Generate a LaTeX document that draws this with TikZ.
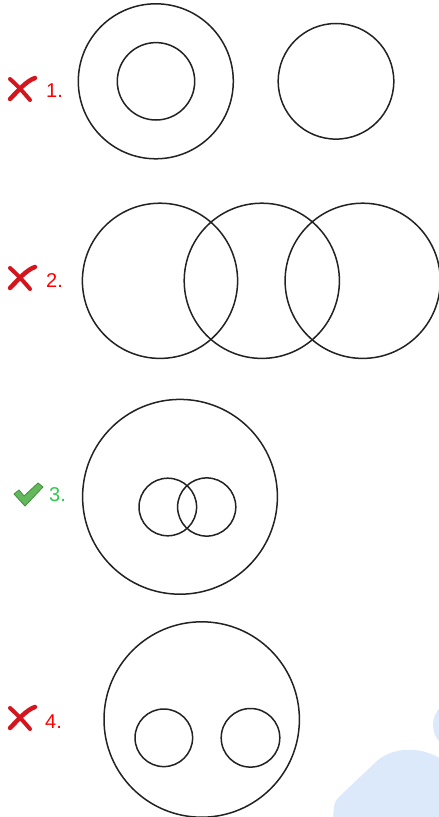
\documentclass[tikz,border=0pt]{standalone}
\usepackage{fontspec}
\setmainfont{Liberation Sans}
\definecolor{circ}{HTML}{222222}
\definecolor{xred}{HTML}{D3161E}
\definecolor{txtred}{HTML}{FF0000}
\definecolor{txtgreen}{HTML}{2FC84A}
\definecolor{chkfill}{HTML}{62B85A}
\definecolor{chkedge}{HTML}{3F8E3A}
\definecolor{wmark}{HTML}{DCE9FB}
\tikzset{
  ring/.style={draw=circ, line width=1.5pt},
  numlabel/.style={anchor=base west, inner sep=0pt, font=\fontsize{20}{20}\selectfont},
  xmark/.pic={
    \draw[xred, line width=4pt, line cap=round] (-12,-10) .. controls (-3,-2) and (3,5) .. (8,11);
    \draw[xred, line width=4.5pt, line cap=round] (-12,10) .. controls (-4,2) and (4,-8) .. (13,-11);
  },
  chkmark/.pic={
    \draw[chkedge, fill=chkfill, line width=0.8pt, line join=round]
      (-14,0) -- (-9,-4) -- (-4,2) -- (10,-11) -- (15,-7) -- (-3,12) -- cycle;
  }
}
\begin{document}
\begin{tikzpicture}[x=1pt,y=-1pt]
\useasboundingbox (0,0) rectangle (439,817);
% watermark
\begin{scope}
\clip (0,0) rectangle (439,817);
\fill[wmark] (458,725) circle (25);
\fill[wmark] (332,830) -- (334,806) .. controls (336,800) .. (342,794) -- (378,760)
  .. controls (395,746) and (425,746) .. (445,762) -- (460,830) -- cycle;
\end{scope}
% row 1
\draw[ring] (155.8,81.3) circle (77.5);
\draw[ring] (156,81.3) circle (38.7);
\draw[ring] (336,81.3) circle (57.8);
\pic at (22,89) {xmark};
\node[numlabel, text=txtred] (l1) at (46,97) {1.};
% row 2
\draw[ring] (160,280.8) circle (77.6);
\draw[ring] (261.8,280.8) circle (77.6);
\draw[ring] (362.7,280.8) circle (77.6);
\pic at (22,278) {xmark};
\node[numlabel, text=txtred] (l2) at (46,287) {2.};
% row 3
\draw[ring] (180,496.8) circle (97.4);
\draw[ring] (167.8,507) circle (28.8);
\draw[ring] (206.7,507) circle (29.1);
\pic at (28,494) {chkmark};
\node[numlabel, text=txtgreen] (l3) at (49,501.5) {3.};
% row 4
\draw[ring] (201.7,719.5) circle (97.7);
\draw[ring] (163.8,737.8) circle (28.8);
\draw[ring] (250.5,737.8) circle (29.3);
\pic at (22,718) {xmark};
\node[numlabel, text=txtred] (l4) at (45,728) {4.};
\end{tikzpicture}
\end{document}
